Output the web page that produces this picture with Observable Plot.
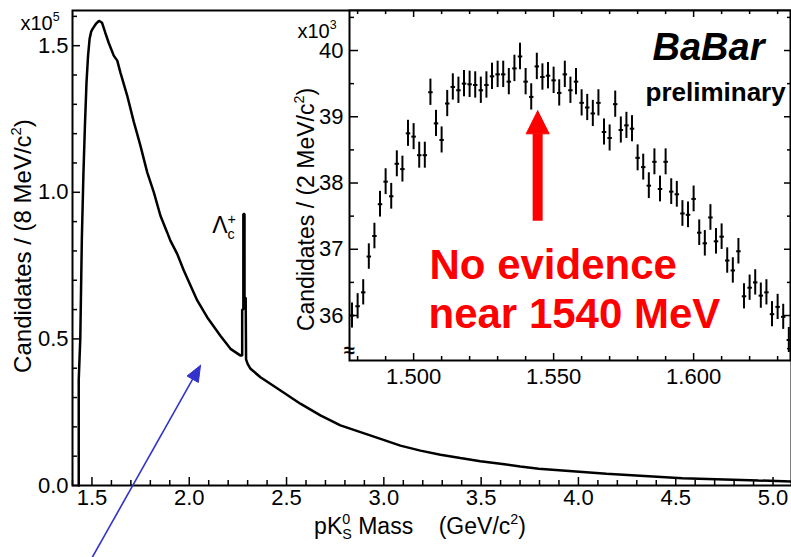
<!DOCTYPE html>
<html><head><meta charset="utf-8">
<script src="https://cdn.jsdelivr.net/npm/d3@7"></script>
<script src="https://cdn.jsdelivr.net/npm/@observablehq/plot@0.6"></script>
<style>
body{margin:0;background:#fff;}
#wrap{position:relative;width:791px;height:557px;overflow:hidden;background:#fff;}
#wrap svg{position:absolute;}
</style>
</head><body><div id="wrap"></div>
<script>
// ---------- data: main histogram (pK0S mass, GeV/c^2 ; candidates x1e5 per 8 MeV) ----------
const massMain = [1.432, 1.432, 1.440, 1.448, 1.456, 1.464, 1.472, 1.480, 1.488, 1.496, 1.504, 1.520, 1.536, 1.552, 1.568, 1.586, 1.612, 1.630, 1.646, 1.681, 1.715, 1.732, 1.749, 1.784, 1.818, 1.852, 1.886, 1.903, 1.938, 1.972, 2.041, 2.092, 2.160, 2.212, 2.264, 2.272, 2.272, 2.278, 2.278, 2.284, 2.284, 2.290, 2.292, 2.300, 2.315, 2.366, 2.469, 2.571, 2.674, 2.777, 2.880, 2.983, 3.085, 3.188, 3.291, 3.393, 3.496, 3.599, 3.701, 3.796, 4.144, 4.534, 4.925, 5.095];
const countsMain = [0, 0.36, 0.50, 0.84, 1.06, 1.23, 1.375, 1.466, 1.524, 1.548, 1.558, 1.574, 1.585, 1.578, 1.545, 1.51, 1.466, 1.449, 1.409, 1.33, 1.24, 1.20, 1.159, 1.068, 1.00, 0.92, 0.864, 0.835, 0.79, 0.733, 0.631, 0.574, 0.511, 0.466, 0.443, 0.443, 0.60, 0.60, 0.926, 0.926, 0.64, 0.64, 0.43, 0.415, 0.398, 0.369, 0.324, 0.279, 0.239, 0.205, 0.182, 0.159, 0.136, 0.119, 0.105, 0.094, 0.083, 0.074, 0.065, 0.057, 0.040, 0.025, 0.017, 0.014];

// ---------- data: inset (2 MeV bins, candidates x1e3) ----------
const massInset = [1.478,1.480,1.482,1.484,1.486,1.488,1.490,1.492,1.494,1.496,1.498,1.500,1.502,1.504,1.506,1.508,1.510,1.512,1.514,1.516,1.518,1.520,1.522,1.524,1.526,1.528,1.530,1.532,1.534,1.536,1.538,1.540,1.542,1.544,1.546,1.548,1.550,1.552,1.554,1.556,1.558,1.560,1.562,1.564,1.566,1.568,1.570,1.572,1.574,1.576,1.578,1.580,1.582,1.584,1.586,1.588,1.590,1.592,1.594,1.596,1.598,1.600,1.602,1.604,1.606,1.608,1.610,1.612,1.614,1.616,1.618,1.620,1.622,1.624,1.626,1.628,1.630,1.632,1.634];
const countsInset = [36.00,36.14,36.35,36.89,37.20,37.68,38.02,37.80,38.29,38.21,38.75,38.70,38.42,38.42,39.37,38.90,38.65,39.20,39.45,39.40,39.50,39.49,39.48,39.40,39.48,39.61,39.64,39.64,39.53,39.73,39.91,39.53,39.30,39.76,39.60,39.62,39.55,39.36,39.64,39.40,39.53,39.21,39.14,39.05,39.21,38.77,38.68,39.19,38.80,38.87,38.82,38.38,38.24,37.96,38.32,37.91,38.32,37.87,37.83,37.54,37.52,37.76,37.25,37.09,37.48,37.12,37.19,36.83,36.68,36.97,36.29,36.42,36.50,36.30,36.35,36.02,36.13,35.98,35.63];

// ---------- tick values ----------
const mainXTicks = [1.5, 2.0, 2.5, 3.0, 3.5, 4.0, 4.5, 5.0];
const mainYTicks = [0, 0.5, 1.0, 1.5];
const insetXTicks = [1.50, 1.55, 1.60];
const insetYTicks = [36, 37, 38, 39, 40];
const mainXMinor = d3.range(14, 51).map(i => i / 10).filter(v => !mainXTicks.includes(v));
const mainYMinor = d3.range(0, 17).map(i => i / 10).filter(v => !mainYTicks.includes(v));
const insetXMinor = d3.range(148, 164).map(i => i / 100).filter(v => !insetXTicks.includes(v));
const insetYMinor = d3.range(71, 82).map(i => i / 2).filter(v => !insetYTicks.includes(v));

const mainTable = massMain.map((m, i) => ({m, c: countsMain[i]}));
const insetTable = massInset.map((m, i) => ({m, v: countsInset[i], e: Math.sqrt(countsInset[i] * 1000) / 1000}));

const FONT = "'Liberation Sans', Arial, Helvetica, sans-serif";

// geometry helpers
function geom(o) {
  return {...o, kx: (o.W - o.ml - o.mr) / (o.x1 - o.x0), ky: (o.H - o.mt - o.mb) / (o.y1 - o.y0)};
}
function ticksX(vals, yAt, lenPx, g, dir, sw) {
  return Plot.ruleX(vals, {x: d => d, y1: () => yAt, y2: () => yAt + dir * lenPx / g.ky, stroke: "black", strokeWidth: sw});
}
function ticksY(vals, xAt, lenPx, g, dir, sw) {
  return Plot.ruleY(vals, {y: d => d, x1: () => xAt, x2: () => xAt + dir * lenPx / g.kx, stroke: "black", strokeWidth: sw});
}
function arrowHead(t0, t1, len, hw, g) {
  const dx = (t1[0] - t0[0]) * g.kx, dy = -(t1[1] - t0[1]) * g.ky;
  const L = Math.hypot(dx, dy), ux = dx / L, uy = dy / L;
  const bx = -ux * len, by = -uy * len, nx = -uy, ny = ux;
  const toData = (px, py) => ({x: t1[0] + px / g.kx, y: t1[1] - py / g.ky});
  return {base: toData(bx, by), tri: [toData(0, 0), toData(bx + nx * hw, by + ny * hw), toData(bx - nx * hw, by - ny * hw), toData(0, 0)]};
}

// ---------- main plot ----------
const gm = geom({W: 791, H: 557, ml: 72, mr: 0, mt: 10, mb: 72, x0: 1.4, x1: 5.095, y0: 0, y1: 1.62});
const blueTail = [1.501, -0.2456], blueTip = [2.058, 0.41];
const blue = arrowHead(blueTail, blueTip, 16, 6.5, gm);

const main = Plot.plot({
  width: gm.W, height: gm.H,
  marginLeft: gm.ml, marginRight: gm.mr, marginTop: gm.mt, marginBottom: gm.mb,
  x: {domain: [gm.x0, gm.x1]},
  y: {domain: [gm.y0, gm.y1]},
  style: {fontFamily: FONT, background: "white", color: "black"},
  marks: [
    Plot.frame({stroke: "black", strokeWidth: 2}),
    ticksX(mainXTicks, 0, 8, gm, 1, 1.5),
    ticksX(mainXMinor, 0, 5, gm, 1, 1.5),
    ticksY(mainYTicks, gm.x0, 8, gm, 1, 1.5),
    ticksY(mainYMinor, gm.x0, 5, gm, 1, 1.5),
    Plot.line(mainTable, {x: "m", y: "c", stroke: "black", strokeWidth: 2.5, strokeLinejoin: "miter"}),
    Plot.axisX(mainXTicks, {tickSize: 0, tickPadding: 4, tickFormat: d3.format(".1f"), fontSize: 22, label: null}),
    Plot.axisY(mainYTicks, {tickSize: 0, tickPadding: 4, tickFormat: d3.format(".1f"), fontSize: 22, label: null}),
    Plot.text(["x10^{5}"], {text: d => d, frameAnchor: "top-left", dx: -52, dy: 19, textAnchor: "start", lineAnchor: "bottom", fontSize: 20}),
    Plot.text(["Candidates / (8 MeV/c^{2})"], {text: d => d, frameAnchor: "left", dx: -49, dy: -2, rotate: -90, textAnchor: "middle", lineAnchor: "middle", fontSize: 24}),
    Plot.text(["pK^{0}_{S} Mass\u00a0\u00a0\u00a0\u00a0(GeV/c^{2})"], {text: d => d, frameAnchor: "bottom", dx: -12, dy: 48, textAnchor: "middle", lineAnchor: "bottom", fontSize: 23}),
    Plot.text(["\u039b_{c}^{+}"], {text: d => d, x: () => 2.118, y: () => 0.8595, textAnchor: "start", lineAnchor: "bottom", fontSize: 23}),
    Plot.link([0], {x1: () => blueTail[0], y1: () => blueTail[1], x2: () => blue.base.x, y2: () => blue.base.y, stroke: "#3333cc", strokeWidth: 1.6}),
    Plot.line(blue.tri, {x: "x", y: "y", fill: "#3333cc", stroke: "#3333cc", strokeWidth: 1})
  ]
});

// ---------- inset plot ----------
const gi = geom({W: 501, H: 400, ml: 59, mr: 1, mt: 10, mb: 40, x0: 1.4771, x1: 1.6346, y0: 35.321, y1: 40.604});
const redTail = [1.5443, 37.43], redTip = [1.5443, 39.09];
const red = arrowHead(redTail, redTip, 23, 11.5, gi);

const inset = Plot.plot({
  width: gi.W, height: gi.H,
  marginLeft: gi.ml, marginRight: gi.mr, marginTop: gi.mt, marginBottom: gi.mb,
  x: {domain: [gi.x0, gi.x1]},
  y: {domain: [gi.y0, gi.y1]},
  style: {fontFamily: FONT, background: "transparent", color: "black"},
  marks: [
    Plot.frame({fill: "white", stroke: "black", strokeWidth: 2}),
    ticksX(insetXTicks, gi.y0, 7, gi, 1, 1.5),
    ticksX(insetXMinor, gi.y0, 4, gi, 1, 1.5),
    ticksX(insetXTicks, gi.y1, 7, gi, -1, 1.5),
    ticksX(insetXMinor, gi.y1, 4, gi, -1, 1.5),
    ticksY(insetYTicks, gi.x0, 9, gi, 1, 1.5),
    ticksY(insetYMinor, gi.x0, 5, gi, 1, 1.5),
    ticksY(insetYTicks, gi.x1, 6, gi, -1, 1.5),
    ticksY(insetYMinor, gi.x1, 3, gi, -1, 1.5),
    Plot.ruleX(insetTable, {x: "m", y1: d => d.v - d.e, y2: d => d.v + d.e, stroke: "black", strokeWidth: 2}),
    Plot.link(insetTable, {x1: d => d.m - 0.0008, x2: d => d.m + 0.0008, y1: "v", y2: "v", stroke: "black", strokeWidth: 2}),
    Plot.axisX(insetXTicks, {tickSize: 0, tickPadding: 8, tickFormat: d3.format(".3f"), fontSize: 22, label: null}),
    Plot.axisY(insetYTicks, {tickSize: 0, tickPadding: 6, tickFormat: d => String(d), fontSize: 22, label: null}),
    Plot.text(["\u2248"], {text: d => d, frameAnchor: "bottom-left", dx: 0, dy: -10, textAnchor: "middle", lineAnchor: "middle", fontSize: 20, fontWeight: "bold"}),
    Plot.text(["x10^{3}"], {text: d => d, frameAnchor: "top-left", dx: -52, dy: 27, textAnchor: "start", lineAnchor: "bottom", fontSize: 20}),
    Plot.text(["Candidates / (2 MeV/c^{2})"], {text: d => d, frameAnchor: "left", dx: -43, dy: 24, rotate: -90, textAnchor: "middle", lineAnchor: "middle", fontSize: 23}),
    Plot.text(["BaBar"], {text: d => d, frameAnchor: "top-left", dx: 303, dy: 49, textAnchor: "start", lineAnchor: "bottom", fontSize: 38, fontWeight: "bold", fontStyle: "italic"}),
    Plot.text(["preliminary"], {text: d => d, frameAnchor: "top-left", dx: 296, dy: 90, textAnchor: "start", lineAnchor: "bottom", fontSize: 26, fontWeight: "bold"}),
    Plot.text(["No evidence"], {text: d => d, frameAnchor: "top-left", dx: 80, dy: 268, textAnchor: "start", lineAnchor: "bottom", fontSize: 42, fontWeight: "bold", fill: "#ff0000"}),
    Plot.text(["near 1540 MeV"], {text: d => d, frameAnchor: "top-left", dx: 79, dy: 317, textAnchor: "start", lineAnchor: "bottom", fontSize: 42, fontWeight: "bold", fill: "#ff0000"}),
    Plot.link([0], {x1: () => redTail[0], y1: () => redTail[1], x2: () => red.base.x, y2: () => red.base.y, stroke: "#ff0000", strokeWidth: 10}),
    Plot.line(red.tri, {x: "x", y: "y", fill: "#ff0000", stroke: "#ff0000", strokeWidth: 1})
  ]
});

const wrap = document.getElementById("wrap");
main.style.left = "0px"; main.style.top = "0px";
inset.style.left = "290px"; inset.style.top = "0px";
wrap.appendChild(main);
wrap.appendChild(inset);

// rich text: ^{..} superscript, _{..} subscript (stacked when adjacent)
function richText(svg) {
  svg.querySelectorAll("text").forEach(t => {
    const s = t.textContent;
    if (!/[\^_]\{/.test(s)) return;
    const fs = parseFloat(getComputedStyle(t).fontSize) || 20;
    while (t.firstChild) t.removeChild(t.firstChild);
    const parts = s.split(/(\^\{[^}]*\}|_\{[^}]*\})/).filter(p => p !== "");
    let cur = 0, prevType = "n", prevW = 0;
    for (const p of parts) {
      const ts = document.createElementNS("http://www.w3.org/2000/svg", "tspan");
      let type = "n", str = p, target = 0;
      if (p.startsWith("^{")) { type = "sup"; str = p.slice(2, -1); target = -0.42 * fs; }
      else if (p.startsWith("_{")) { type = "sub"; str = p.slice(2, -1); target = 0.24 * fs; }
      if (type !== "n") ts.setAttribute("font-size", (0.62 * fs).toFixed(1));
      const dy = target - cur;
      if (dy) ts.setAttribute("dy", dy.toFixed(2));
      if (type !== "n" && prevType !== "n" && type !== prevType) ts.setAttribute("dx", (-prevW).toFixed(2));
      ts.textContent = str;
      t.appendChild(ts);
      prevW = ts.getComputedTextLength();
      cur = target; prevType = type;
    }
  });
}
richText(main);
richText(inset);
</script>
</body></html>
